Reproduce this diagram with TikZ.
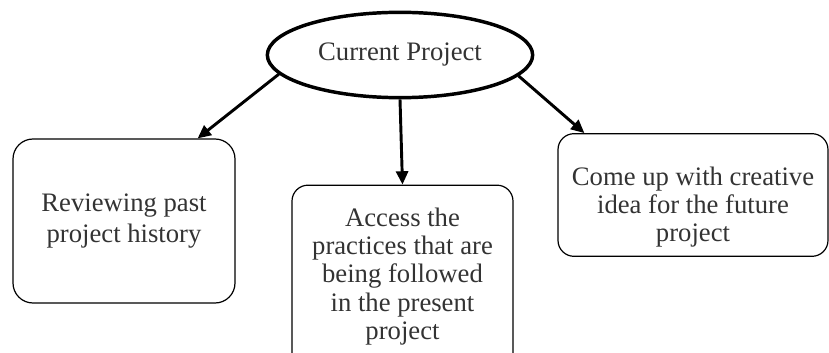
\documentclass[tikz,border=0pt]{standalone}
\usepackage{fontspec}
\setmainfont{Liberation Serif}
\usetikzlibrary{arrows.meta,positioning,shapes.geometric,calc}

\begin{document}
\begin{tikzpicture}[x=0.75pt,y=-0.75pt,>={Triangle[length=10pt,width=9pt]},
  every node/.style={align=center,text=black!80},
  box/.style={draw,rounded corners=12pt,line width=0.9pt},
  link/.style={->,line width=2.2pt}]
  \fontsize{20}{21.2}\selectfont
  \useasboundingbox (0,0) rectangle (829,353);
  \node[draw,ellipse,line width=2.6pt,inner sep=0pt,minimum width=199pt,minimum height=64pt] (cur) at (400,55) {Current Project};
  \node[box,rounded corners=15pt,minimum width=166.5pt,minimum height=123pt] (past) at (124,221) {Reviewing past\\[2pt]project history};
  \node[box,minimum width=165.75pt,minimum height=137pt] (access) at (402.5,276.5) {Access the\\practices that are\\being followed\\in the present\\project};
  \node[box,minimum width=202.5pt,minimum height=79.5pt] (idea) at (693,195) {\rule{0pt}{32pt}Come up with creative\\idea for the future\\project};
  \draw[link] (cur.189) -- ($(past.north east)+(-38,0)$);
  \draw[link] (cur.south) -- (access.north);
  \draw[link] (cur.350) -- ($(idea.north west)+(27,0)$);
\end{tikzpicture}
\end{document}
